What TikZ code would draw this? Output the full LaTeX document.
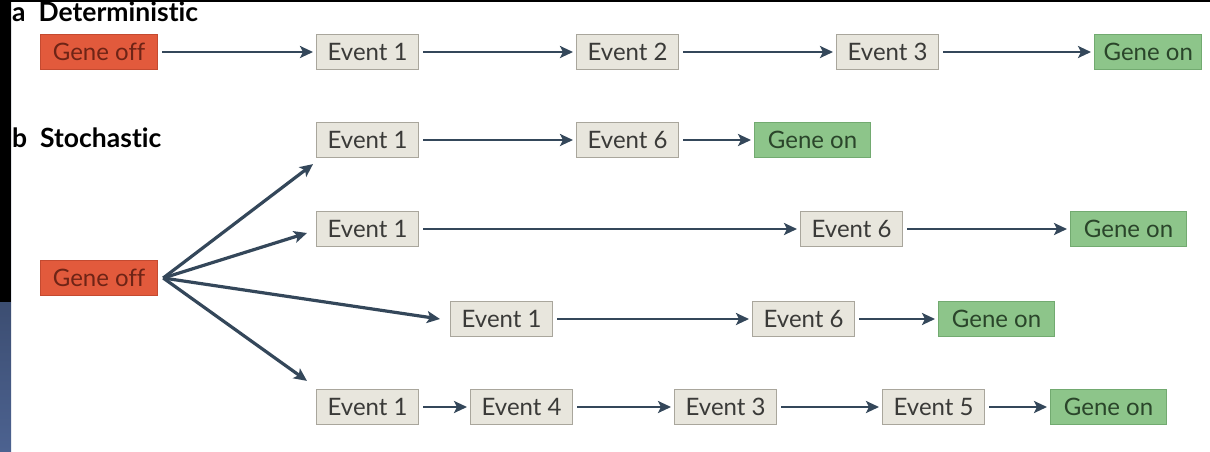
\documentclass[tikz,border=0pt]{standalone}
\usepackage{fontspec}
\setmainfont[Ligatures=NoCommon]{Lato}
\usetikzlibrary{arrows.meta,calc}
\definecolor{arrowc}{HTML}{34475A}
\definecolor{evfill}{HTML}{E8E6DD}
\definecolor{evdraw}{HTML}{A9A69C}
\definecolor{evtext}{HTML}{3A3A38}
\definecolor{offfill}{HTML}{E25A3C}
\definecolor{offdraw}{HTML}{C44A30}
\definecolor{offtext}{HTML}{6E2416}
\definecolor{onfill}{HTML}{8DC58A}
\definecolor{ondraw}{HTML}{72AA70}
\definecolor{ontext}{HTML}{2A452A}
\definecolor{navytop}{HTML}{1C2434}
\definecolor{navybot}{HTML}{4C6290}
\tikzset{
  box/.style={anchor=west, minimum height=35pt, inner xsep=9pt, inner ysep=0pt,
    font=\fontsize{24}{24}\selectfont, line width=1.2pt},
  event/.style={box, fill=evfill, draw=evdraw, text=evtext, minimum width=102pt},
  geneoff/.style={box, fill=offfill, draw=offdraw, text=offtext, minimum width=117pt},
  geneon/.style={box, fill=onfill, draw=ondraw, text=ontext},
  flow/.style={draw=arrowc, line width=2.8pt, -{Stealth[length=13pt,width=12pt,inset=3pt]}},
  fan/.style={flow, line width=3.2pt},
  heading/.style={anchor=west, font=\fontsize{26.5}{26.5}\selectfont\bfseries, text=black, inner sep=0pt}
}
\begin{document}
\begin{tikzpicture}[x=1pt,y=-1pt]
  \useasboundingbox (0,0) rectangle (1210,451);
  \fill[white] (0,0) rectangle (1210,451);
  % slide border on the left and the top
  \shade[top color=navytop, bottom color=navybot] (0,0) rectangle (11,451);
  \fill[black] (0,0) rectangle (11,302);
  \fill[black] (0,0) rectangle (1210,1.5);

  % headings
  \node[heading] (ha) at (12,12) {a\hspace{13pt}Deterministic};
  \node[heading] (hb) at (12,138) {b\hspace{13pt}Stochastic};

  % deterministic chain
  \node[geneoff] (aoff) at (40,52) {Gene off};
  \node[event] (a1) at (316,52) {Event 1};
  \node[event] (a2) at (576,52) {Event 2};
  \node[event] (a3) at (836,52) {Event 3};
  \node[geneon, minimum width=106pt] (aon) at (1094,52) {Gene on};
  \draw[flow] ($(aoff.east)+(4,0)$) -- ($(a1.west)+(-3,0)$);
  \draw[flow] ($(a1.east)+(4,0)$) -- ($(a2.west)+(-3,0)$);
  \draw[flow] ($(a2.east)+(4,0)$) -- ($(a3.west)+(-3,0)$);
  \draw[flow] ($(a3.east)+(4,0)$) -- ($(aon.west)+(-3,0)$);

  % stochastic paths
  \node[geneoff] (boff) at (40,278) {Gene off};

  \node[event] (b11) at (316,140) {Event 1};
  \node[event] (b16) at (576,140) {Event 6};
  \node[geneon, minimum width=116pt] (b1on) at (754,140) {Gene on};

  \node[event] (b21) at (316,229) {Event 1};
  \node[event] (b26) at (800,229) {Event 6};
  \node[geneon, minimum width=116pt] (b2on) at (1070,229) {Gene on};

  \node[event] (b31) at (450,319) {Event 1};
  \node[event] (b36) at (752,319) {Event 6};
  \node[geneon, minimum width=116pt] (b3on) at (938,319) {Gene on};

  \node[event] (b41) at (316,407) {Event 1};
  \node[event] (b44) at (470,407) {Event 4};
  \node[event] (b43) at (674,407) {Event 3};
  \node[event] (b45) at (882,407) {Event 5};
  \node[geneon, minimum width=116pt] (b4on) at (1050,407) {Gene on};

  % fan out of the branch point
  \coordinate (fork) at ($(boff.east)+(5,0)$);
  \coordinate (t1) at ($(b11.south west)+(-3,6)$);
  \coordinate (t2) at ($(b21.west)+(-9,4)$);
  \coordinate (t3) at ($(b31.west)+(-10,0)$);
  \coordinate (t4) at ($(b41.north west)+(-9,-8)$);
  \draw[fan] (fork) -- (t1);
  \draw[fan] (fork) -- (t2);
  \draw[fan] (fork) -- (t3);
  \draw[fan] (fork) -- (t4);

  \draw[flow] ($(b11.east)+(4,0)$) -- ($(b16.west)+(-3,0)$);
  \draw[flow] ($(b16.east)+(4,0)$) -- ($(b1on.west)+(-3,0)$);
  \draw[flow] ($(b21.east)+(4,0)$) -- ($(b26.west)+(-3,0)$);
  \draw[flow] ($(b26.east)+(4,0)$) -- ($(b2on.west)+(-3,0)$);
  \draw[flow] ($(b31.east)+(4,0)$) -- ($(b36.west)+(-3,0)$);
  \draw[flow] ($(b36.east)+(4,0)$) -- ($(b3on.west)+(-3,0)$);
  \draw[flow] ($(b41.east)+(4,0)$) -- ($(b44.west)+(-3,0)$);
  \draw[flow] ($(b44.east)+(4,0)$) -- ($(b43.west)+(-3,0)$);
  \draw[flow] ($(b43.east)+(4,0)$) -- ($(b45.west)+(-3,0)$);
  \draw[flow] ($(b45.east)+(4,0)$) -- ($(b4on.west)+(-3,0)$);
\end{tikzpicture}
\end{document}
